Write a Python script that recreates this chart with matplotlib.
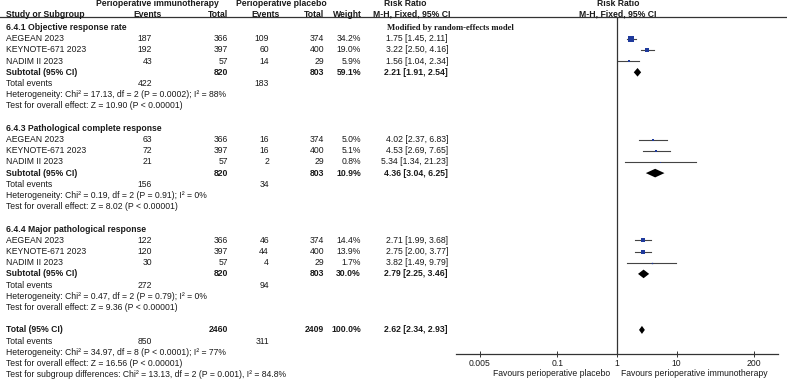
import matplotlib.pyplot as plt
import numpy as np

plt.rcParams['font.family'] = ['Liberation Sans', 'DejaVu Sans']

## Data
studies = ["AEGEAN 2023", "KEYNOTE-671 2023", "NADIM II 2023"]
group_titles = ["6.4.1 Objective response rate",
                "6.4.3 Pathological complete response",
                "6.4.4 Major pathological response"]

exp_events = [[187, 192, 43], [63, 72, 21], [122, 120, 30]]
exp_total = [[366, 397, 57], [366, 397, 57], [366, 397, 57]]
ctl_events = [[109, 60, 14], [16, 16, 2], [46, 44, 4]]
ctl_total = [[374, 400, 29], [374, 400, 29], [374, 400, 29]]
weights = [[34.2, 19.0, 5.9], [5.0, 5.1, 0.8], [14.4, 13.9, 1.7]]
rr = [[1.75, 3.22, 1.56], [4.02, 4.53, 5.34], [2.71, 2.75, 3.82]]
rr_lo = [[1.45, 2.50, 1.04], [2.37, 2.69, 1.34], [1.99, 2.00, 1.49]]
rr_hi = [[2.11, 4.16, 2.34], [6.83, 7.65, 21.23], [3.68, 3.77, 9.79]]

sub_exp_total = [820, 820, 820]
sub_ctl_total = [803, 803, 803]
sub_weight = [59.1, 10.9, 30.0]
sub_rr = [2.21, 4.36, 2.79]
sub_lo = [1.91, 3.04, 2.25]
sub_hi = [2.54, 6.25, 3.46]
sub_exp_events = [422, 156, 272]
sub_ctl_events = [183, 34, 94]
sub_het = ["Heterogeneity: Chi\u00b2 = 17.13, df = 2 (P = 0.0002); I\u00b2 = 88%",
           "Heterogeneity: Chi\u00b2 = 0.19, df = 2 (P = 0.91); I\u00b2 = 0%",
           "Heterogeneity: Chi\u00b2 = 0.47, df = 2 (P = 0.79); I\u00b2 = 0%"]
sub_test = ["Test for overall effect: Z = 10.90 (P < 0.00001)",
            "Test for overall effect: Z = 8.02 (P < 0.00001)",
            "Test for overall effect: Z = 9.36 (P < 0.00001)"]

tot_exp_total, tot_ctl_total, tot_weight = 2460, 2409, 100.0
tot_rr, tot_lo, tot_hi = 2.62, 2.34, 2.93
tot_exp_events, tot_ctl_events = 850, 311
tot_het = "Heterogeneity: Chi\u00b2 = 34.97, df = 8 (P < 0.0001); I\u00b2 = 77%"
tot_test = "Test for overall effect: Z = 16.56 (P < 0.00001)"
subgroup_test = "Test for subgroup differences: Chi\u00b2 = 13.13, df = 2 (P = 0.001), I\u00b2 = 84.8%"

ticks = [0.005, 0.1, 1, 10, 200]
tick_labels = ["0.005", "0.1", "1", "10", "200"]

## Layout (pixels)
W, H = 787, 383
fs = 6.2
txt = '#1a1a1a'
sq_col = '#1f3a9c'
x_name, x_ev1, x_tot1, x_ev2, x_tot2, x_w, x_rr = 6, 152, 228, 269, 324, 361, 448
y_line = 17.3
y_axis = 354


def ry(i):
    return 27.5 + 11.2 * i


fig = plt.figure(figsize=(W / 100, H / 100), dpi=100)
tax = fig.add_axes([0, 0, 1, 1])
tax.set_xlim(0, W)
tax.set_ylim(H, 0)
tax.axis('off')

fax = fig.add_axes([456 / W, 1 - y_axis / H, (778 - 456) / W, (y_axis - y_line) / H])
fax.set_xscale('log')
fax.set_xlim(0.002, 500)
fax.set_ylim(y_axis, y_line)
fax.patch.set_alpha(0)
for s in ['top', 'left', 'right']:
    fax.spines[s].set_visible(False)
fax.spines['bottom'].set_color('#333333')
fax.spines['bottom'].set_linewidth(0.9)
fax.set_yticks([])
fax.set_xticks(ticks)
fax.set_xticklabels(tick_labels)
fax.minorticks_off()
fax.tick_params(axis='x', direction='inout', length=4, width=0.7, pad=1.5,
                labelsize=fs, colors='#333333', labelcolor=txt)
fax.axvline(1, color='#333333', lw=0.9)


def t(x, y, s, ha='left', bold=False, **kw):
    tax.text(x, y, s, ha=ha, va='center', fontsize=fs, color=txt,
             fontweight='bold' if bold else 'normal', **kw)


## Header
t(157, 4, "Perioperative immunotherapy", ha='center', bold=True)
t(281, 4, "Perioperative placebo", ha='center', bold=True)
t(405, 4, "Risk Ratio", ha='center', bold=True)
t(618, 4, "Risk Ratio", ha='center', bold=True)
t(x_name, 14.5, "Study or Subgroup", bold=True)
t(148, 14.5, "Events", ha='center', bold=True)
t(x_tot1, 14.5, "Total", ha='right', bold=True)
t(265, 14.5, "Events", ha='center', bold=True)
t(x_tot2, 14.5, "Total", ha='right', bold=True)
t(x_w + 1, 14.5, "Weight", ha='right', bold=True)
t(412, 14.5, "M-H, Fixed, 95% CI", ha='center', bold=True)
t(618, 14.5, "M-H, Fixed, 95% CI", ha='center', bold=True)
tax.plot([0, W], [y_line, y_line], color='#333333', lw=0.9)

tax.text(387, ry(0), "Modified by random-effects model", ha='left', va='center',
         fontsize=fs, fontweight='bold', family='Liberation Serif', color=txt)

## Groups
for g in range(3):
    s = g * 9
    t(x_name, ry(s), group_titles[g], bold=True)
    for k in range(3):
        y = ry(s + 1 + k)
        t(x_name, y, studies[k])
        t(x_ev1, y, str(exp_events[g][k]), ha='right')
        t(x_tot1, y, str(exp_total[g][k]), ha='right')
        t(x_ev2, y, str(ctl_events[g][k]), ha='right')
        t(x_tot2, y, str(ctl_total[g][k]), ha='right')
        t(x_w, y, f"{weights[g][k]:.1f}%", ha='right')
        t(x_rr, y, f"{rr[g][k]:.2f} [{rr_lo[g][k]:.2f}, {rr_hi[g][k]:.2f}]", ha='right')
        fax.plot([rr_lo[g][k], rr_hi[g][k]], [y, y], color='#444444', lw=0.8)
        fax.plot(rr[g][k], y, marker='s', ms=7.4 * np.sqrt(weights[g][k] / 100),
                 color=sq_col, mec=sq_col, mew=0)
    y = ry(s + 4)
    t(x_name, y, "Subtotal (95% CI)", bold=True)
    t(x_tot1, y, str(sub_exp_total[g]), ha='right', bold=True)
    t(x_tot2, y, str(sub_ctl_total[g]), ha='right', bold=True)
    t(x_w, y, f"{sub_weight[g]:.1f}%", ha='right', bold=True)
    t(x_rr, y, f"{sub_rr[g]:.2f} [{sub_lo[g]:.2f}, {sub_hi[g]:.2f}]", ha='right', bold=True)
    fax.fill([sub_lo[g], sub_rr[g], sub_hi[g], sub_rr[g]], [y, y - 4.3, y, y + 4.3],
             color='black', lw=0)
    y = ry(s + 5)
    t(x_name, y, "Total events")
    t(x_ev1, y, str(sub_exp_events[g]), ha='right')
    t(x_ev2, y, str(sub_ctl_events[g]), ha='right')
    t(x_name, ry(s + 6), sub_het[g])
    t(x_name, ry(s + 7), sub_test[g])

## Overall
y = ry(27)
t(x_name, y, "Total (95% CI)", bold=True)
t(x_tot1, y, str(tot_exp_total), ha='right', bold=True)
t(x_tot2, y, str(tot_ctl_total), ha='right', bold=True)
t(x_w, y, f"{tot_weight:.1f}%", ha='right', bold=True)
t(x_rr, y, f"{tot_rr:.2f} [{tot_lo:.2f}, {tot_hi:.2f}]", ha='right', bold=True)
fax.fill([tot_lo, tot_rr, tot_hi, tot_rr], [y, y - 4.0, y, y + 4.0], color='black', lw=0)
y = ry(28)
t(x_name, y, "Total events")
t(x_ev1, y, str(tot_exp_events), ha='right')
t(x_ev2, y, str(tot_ctl_events), ha='right')
t(x_name, ry(29), tot_het)
t(x_name, ry(30), tot_test)
t(x_name, ry(31), subgroup_test)

t(610, 374, "Favours perioperative placebo", ha='right')
t(621, 374, "Favours perioperative immunotherapy", ha='left')

fig.savefig("out.png", dpi=100)
